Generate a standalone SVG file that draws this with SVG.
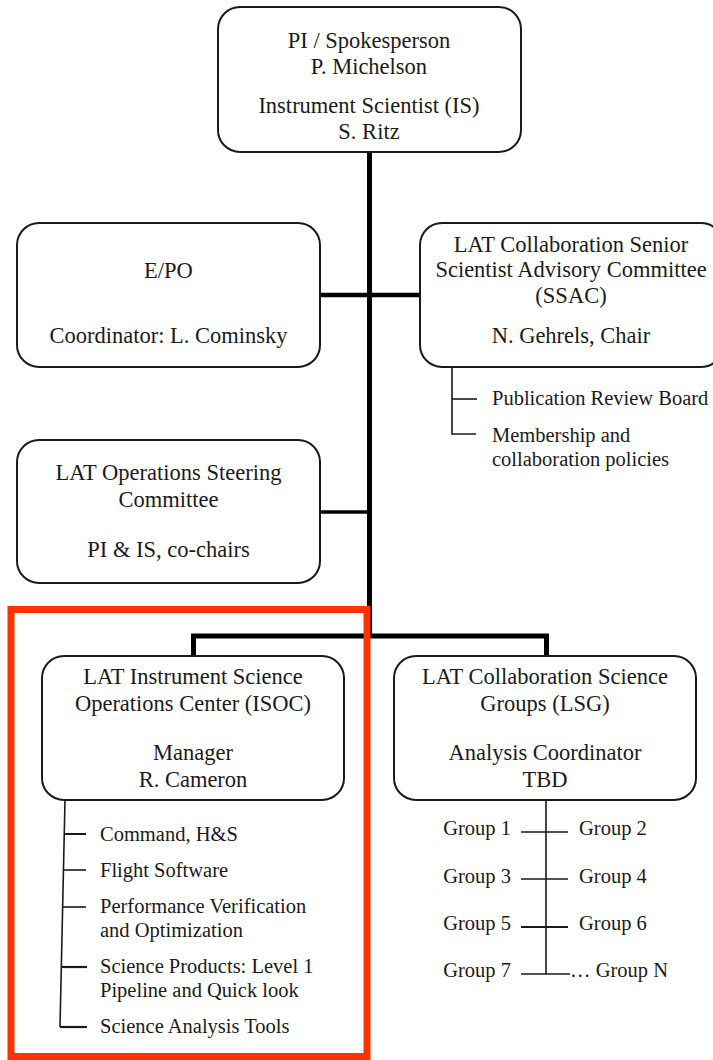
<svg xmlns="http://www.w3.org/2000/svg" width="713" height="1060" viewBox="0 0 713 1060">
<style>
.box{fill:#fff;stroke:#1a1a1a;stroke-width:2}
.t{font-family:"Liberation Serif","Times New Roman",serif;font-size:22.5px;fill:#1a1a1a;text-anchor:middle}
.s{font-family:"Liberation Serif","Times New Roman",serif;font-size:20.5px;fill:#1a1a1a}
.e{text-anchor:end}
.thick{stroke:#000;stroke-width:5;fill:none}
.thin{stroke:#1a1a1a;stroke-width:1.6;fill:none}
</style>
<rect width="713" height="1060" fill="#fff"/>
<g id="connectors">
<line class="thick" x1="369.5" y1="152" x2="369.5" y2="638"/>
<line class="thick" x1="320" y1="295" x2="420" y2="295" style="stroke-width:4.5"/>
<line class="thick" x1="320" y1="512" x2="369.5" y2="512" style="stroke-width:3.5"/>
<polyline class="thick" points="193.5,657 193.5,636 546.5,636 546.5,657"/>
<polyline class="thin" points="452,367 452,434 476,434"/>
<line class="thin" x1="452" y1="399" x2="477" y2="399"/>
<line class="thin" x1="65" y1="800" x2="60" y2="1027"/>
<line class="thin" x1="64.3" y1="834" x2="86" y2="834" style="stroke-width:2"/>
<line class="thin" x1="63.5" y1="870" x2="86" y2="870"/>
<line class="thin" x1="62.7" y1="907" x2="86" y2="907"/>
<line class="thin" x1="61.3" y1="967" x2="87" y2="967" style="stroke-width:2.2"/>
<line class="thin" x1="60" y1="1027" x2="87" y2="1027" style="stroke-width:2.2"/>
<line class="thin" x1="546" y1="800" x2="546" y2="974"/>
<line class="thin" x1="521" y1="832" x2="568" y2="832"/>
<line class="thin" x1="521" y1="879" x2="568" y2="879"/>
<line class="thin" x1="521" y1="927" x2="568" y2="927" style="stroke-width:2.2"/>
<line class="thin" x1="521" y1="974" x2="570" y2="974"/>
</g>
<g id="pi">
<rect class="box" x="218" y="7" width="303" height="145" rx="22"/>
<text class="t" x="369" y="48">PI / Spokesperson</text>
<text class="t" x="369" y="74">P. Michelson</text>
<text class="t" x="369" y="113">Instrument Scientist (IS)</text>
<text class="t" x="369" y="139">S. Ritz</text>
</g>
<g id="epo">
<rect class="box" x="17" y="223" width="303" height="144" rx="22"/>
<text class="t" x="168.5" y="278">E/PO</text>
<text class="t" x="168.5" y="343">Coordinator: L. Cominsky</text>
</g>
<g id="ssac">
<rect class="box" x="420" y="223" width="303" height="144" rx="22"/>
<text class="t" x="571" y="252">LAT Collaboration Senior</text>
<text class="t" x="571" y="277">Scientist Advisory Committee</text>
<text class="t" x="571" y="303">(SSAC)</text>
<text class="t" x="571" y="343">N. Gehrels, Chair</text>
<text class="s" x="492" y="405">Publication Review Board</text>
<text class="s" x="492" y="442">Membership and</text>
<text class="s" x="492" y="466">collaboration policies</text>
</g>
<g id="ops">
<rect class="box" x="17" y="440" width="303" height="143" rx="22"/>
<text class="t" x="168.5" y="480">LAT Operations Steering</text>
<text class="t" x="168.5" y="507">Committee</text>
<text class="t" x="168.5" y="557">PI &amp; IS, co-chairs</text>
</g>
<g id="isoc">
<rect class="box" x="42" y="656" width="302" height="144" rx="22"/>
<text class="t" x="193" y="684">LAT Instrument Science</text>
<text class="t" x="193" y="711">Operations Center (ISOC)</text>
<text class="t" x="193" y="760">Manager</text>
<text class="t" x="193" y="787">R. Cameron</text>
<text class="s" x="100" y="841">Command, H&amp;S</text>
<text class="s" x="100" y="877">Flight Software</text>
<text class="s" x="100" y="913">Performance Verification</text>
<text class="s" x="100" y="937">and Optimization</text>
<text class="s" x="100" y="973">Science Products: Level 1</text>
<text class="s" x="100" y="997">Pipeline and Quick look</text>
<text class="s" x="100" y="1033">Science Analysis Tools</text>
</g>
<g id="lsg">
<rect class="box" x="394" y="656" width="302" height="144" rx="22"/>
<text class="t" x="545" y="684">LAT Collaboration Science</text>
<text class="t" x="545" y="711">Groups (LSG)</text>
<text class="t" x="545" y="760">Analysis Coordinator</text>
<text class="t" x="545" y="787">TBD</text>
<text class="s e" x="511" y="835">Group 1</text>
<text class="s" x="579" y="835">Group 2</text>
<text class="s e" x="511" y="883">Group 3</text>
<text class="s" x="579" y="883">Group 4</text>
<text class="s e" x="511" y="930">Group 5</text>
<text class="s" x="579" y="930">Group 6</text>
<text class="s e" x="511" y="977">Group 7</text>
<text class="s" x="570" y="977">… Group N</text>
</g>
<rect id="highlight" x="11" y="609.5" width="356" height="447" fill="none" stroke="#ff3300" stroke-width="7"/>
</svg>
